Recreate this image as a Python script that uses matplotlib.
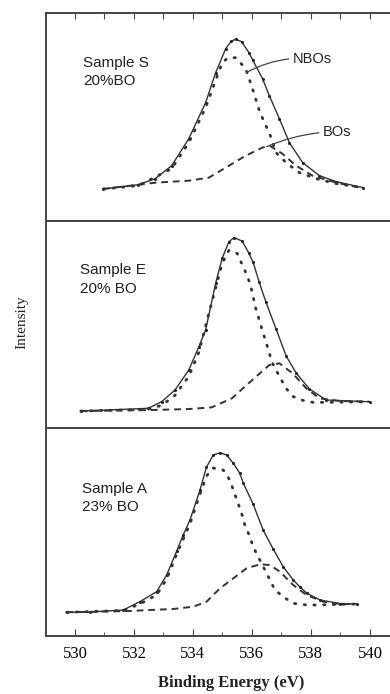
import matplotlib.pyplot as plt
from matplotlib.ticker import MultipleLocator

# Sample S, 20% BO
s_total_e = [530.96, 532.15, 532.72, 533.28, 533.86, 534.43, 534.77, 535.11, 535.30, 535.45, 535.65, 535.90, 536.02, 536.36, 536.59, 536.93, 537.27, 537.72, 538.29, 538.86, 539.77]
s_total_i = [31.7, 36, 42, 55, 82, 118, 148, 172, 179.5, 181.5, 179, 168, 161, 142, 125, 102, 78, 58, 45, 39, 33]
s_nbo_e = [530.96, 532.15, 533.28, 533.86, 534.43, 534.99, 535.20, 535.45, 535.79, 536.02, 536.25, 536.47, 536.59, 536.82, 537.16, 537.61, 538.18, 538.86, 539.76]
s_nbo_i = [31.7, 35, 52, 78, 113, 158, 163, 163, 152, 132, 110, 95, 88, 68, 58, 48, 42, 37, 33]
s_bo_e = [530.96, 532.72, 533.86, 534.54, 535.22, 535.79, 536.35, 536.60, 537.03, 537.50, 538.05, 538.86, 539.66]
s_bo_i = [31.7, 38, 40, 43, 55, 65, 73, 75, 67, 55, 45, 38, 33]

# Sample E, 20% BO
e_total_e = [530.20, 532.48, 532.94, 533.39, 533.86, 534.20, 534.43, 534.77, 534.99, 535.22, 535.39, 535.67, 535.90, 536.04, 536.25, 536.47, 536.82, 537.16, 537.50, 537.95, 538.52, 540.00]
e_total_i = [17.3, 20, 26.6, 38.3, 58.3, 81.6, 98.3, 145, 170, 186.6, 190.8, 187.3, 175, 166, 146, 126.6, 99.3, 72.3, 55.3, 39.3, 28.3, 26.6]
e_nbo_e = [530.20, 532.48, 532.94, 533.39, 533.86, 534.20, 534.54, 534.99, 535.22, 535.50, 535.68, 535.85, 535.96, 536.13, 536.25, 536.36, 536.47, 536.59, 536.70, 536.93, 537.16, 537.38, 537.72, 538.07, 538.60, 540.00]
e_nbo_i = [17.3, 19, 23, 33, 52, 76, 115, 165, 178, 175, 163, 152, 142, 120, 108, 97, 87, 75, 65, 52, 40, 32, 28, 26, 26, 26.6]
e_bo_e = [530.20, 532.59, 533.86, 534.64, 535.32, 536.01, 536.59, 536.93, 537.38, 537.84, 538.29, 538.97, 540.00]
e_bo_i = [17.3, 18.3, 19.3, 21, 30, 48.3, 63.3, 65, 55, 40, 30, 27.3, 26.6]

# Sample A, 23% BO
a_total_e = [529.72, 530.50, 531.64, 532.20, 532.77, 533.11, 533.45, 533.67, 533.90, 534.24, 534.46, 534.69, 534.92, 535.14, 535.37, 535.59, 535.71, 536.04, 536.38, 536.72, 537.06, 537.40, 537.63, 537.85, 538.31, 538.98, 539.55]
a_total_i = [23.7, 24, 26, 34.3, 44.3, 61, 85, 101, 116, 146, 169, 181, 183.3, 181, 172.7, 162.7, 152.7, 132, 106, 87, 69.3, 56, 49, 43, 36, 32.5, 32]
a_nbo_e = [529.72, 531.64, 532.20, 532.77, 533.11, 533.45, 533.90, 534.24, 534.46, 534.69, 535.03, 535.25, 535.48, 535.65, 535.76, 535.93, 536.04, 536.21, 536.44, 536.61, 536.78, 537.12, 537.40, 537.85, 538.19, 539.55]
a_nbo_i = [23.7, 25.5, 32, 41, 57, 82, 112, 142, 160, 168, 166, 156, 137, 122.7, 111, 99.3, 89.3, 79.3, 66, 56, 46, 38, 32.7, 31, 31, 32]
a_bo_e = [529.72, 531.86, 532.54, 533.33, 534.01, 534.46, 534.92, 535.37, 535.82, 536.27, 536.61, 536.95, 537.40, 537.85, 538.42, 538.98, 539.55]
a_bo_i = [23.7, 25, 26, 27, 29.3, 34.3, 47.7, 57.7, 67.7, 71.7, 71, 64.3, 51, 41, 34.3, 32, 32]

labels = ["Sample S\n20%BO", "Sample E\n20% BO", "Sample A\n23% BO"]
label_pos = [(530.27, 165), (530.17, 165), (530.24, 154)]
tick_vals = [530, 532, 534, 536, 538, 540]

panels = [
    (s_total_e, s_total_i, s_nbo_e, s_nbo_i, s_bo_e, s_bo_i),
    (e_total_e, e_total_i, e_nbo_e, e_nbo_i, e_bo_e, e_bo_i),
    (a_total_e, a_total_i, a_nbo_e, a_nbo_i, a_bo_e, a_bo_i),
]

fig = plt.figure(figsize=(3.9, 6.94), dpi=100)
gs = fig.add_gridspec(3, 1, left=46/390, right=1.0, top=1-13/694, bottom=1-636/694, hspace=0)
sans = ['Liberation Sans', 'DejaVu Sans']

axes = []
for k, (te, ti, ne, ni, be, bi) in enumerate(panels):
    ax = fig.add_subplot(gs[k])
    axes.append(ax)
    ax.plot(te, ti, color='#333333', lw=1.0)
    ax.plot(te, ti, 'o', color='#222222', ms=2.2, mew=0)
    ax.plot(ne, ni, color='#333333', lw=2.0, linestyle=(0, (0.5, 3.0)), dash_capstyle='round')
    ax.plot(be, bi, color='#333333', lw=1.4, linestyle=(0, (3.5, 2.5)))
    ax.set_xlim(529.02, 540.68)
    ax.set_ylim(0, 207.7)
    ax.set_yticks([])
    ax.spines['right'].set_visible(False)
    for sp in ['left', 'top', 'bottom']:
        ax.spines[sp].set_color('#444444')
        ax.spines[sp].set_linewidth(1.4)
    ax.text(label_pos[k][0], label_pos[k][1], labels[k], ha='left', va='top',
            fontsize=11, family=sans, color='#222222', linespacing=1.4)

# top panel: ticks along the top edge
ax = axes[0]
ax.xaxis.set_major_locator(MultipleLocator(1))
ax.tick_params(axis='x', which='both', top=True, bottom=False, direction='in',
               length=4, labeltop=False, labelbottom=False, color='#444444')
ax.annotate('NBOs', xy=(535.82, 148.3), xytext=(537.39, 162), ha='left', va='center',
            fontsize=10.5, family=sans, color='#222222',
            arrowprops=dict(arrowstyle='-', color='#444444', lw=0.9,
                            connectionstyle='arc3,rad=0.15', shrinkA=1, shrinkB=0))
ax.annotate('BOs', xy=(536.5, 74), xytext=(538.41, 89), ha='left', va='center',
            fontsize=10.5, family=sans, color='#222222',
            arrowprops=dict(arrowstyle='-', color='#444444', lw=0.9,
                            connectionstyle='arc3,rad=0.1', shrinkA=1, shrinkB=0))

axes[1].tick_params(axis='x', which='both', bottom=False, top=False,
                    labelbottom=False)

ax = axes[2]
ax.set_xticks(tick_vals)
ax.xaxis.set_minor_locator(MultipleLocator(1))
ax.tick_params(axis='x', which='major', direction='in', length=5, pad=7,
               labelsize=12, color='#444444')
ax.tick_params(axis='x', which='minor', direction='in', length=3, color='#444444')
for lab in ax.get_xticklabels():
    lab.set_family('Liberation Serif')

fig.text(22/390, 1-322/694, 'Intensity', rotation=90, ha='center', va='center',
         fontsize=11, family='Liberation Serif', color='#222222')
fig.text(231/390, 1-683/694, 'Binding Energy (eV)', ha='center', va='center',
         fontsize=12, family='Liberation Serif', fontweight='bold', color='#222222')

fig.savefig('out.png', dpi=100)
